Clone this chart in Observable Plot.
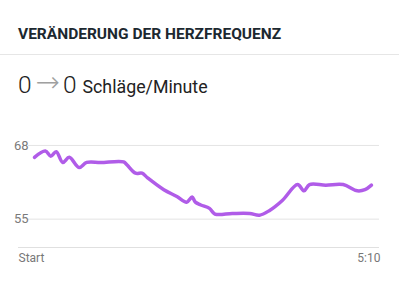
<!DOCTYPE html>
<html>
<head>
<meta charset="utf-8">
<script src="https://cdn.jsdelivr.net/npm/d3@7"></script>
<script src="https://cdn.jsdelivr.net/npm/@observablehq/plot@0.6"></script>
<style>
  html, body { margin: 0; padding: 0; background: #fff; width: 399px; overflow: hidden; }
  body { font-family: Roboto, "Noto Sans", sans-serif; }
  .title { position: absolute; left: 18px; top: 25px; font-size: 15.5px; font-weight: 700; color: #1c2830; }
  .sep { position: absolute; left: 0; top: 54px; width: 399px; height: 1px; background: #e6e6e6; }
  .value { position: absolute; left: 18px; top: 66px; color: #222; white-space: nowrap; }
  .num { font-size: 24.5px; font-weight: 300; }
  .arrow { font-family: "DejaVu Sans", sans-serif; font-size: 29px; color: #a0a0a0; font-weight: 200; margin: 0 3px 0 4px; position: relative; top: -1px; }
  .unit { font-size: 17.8px; margin-left: 6px; }
  #chart { position: absolute; left: 0; top: 125px; }
</style>
</head>
<body>
<div class="title">VERÄNDERUNG DER HERZFREQUENZ</div>
<div class="sep"></div>
<div class="value"><span class="num">0</span><span class="arrow">→</span><span class="num">0</span><span class="unit">Schläge/Minute</span></div>
<div id="chart"></div>
<script>
// seconds since start
const seconds = [0, 10, 15, 20, 26, 32, 41, 48, 61, 82, 85, 93, 99, 104, 119, 131, 140, 145, 148, 153, 161, 166, 182, 198, 207, 216, 228, 242, 248, 253, 268, 284, 297, 304, 310];
// heart rate, beats per minute
const bpm = [65.9, 67.0, 66.1, 66.9, 65.0, 65.9, 64.1, 65.0, 65.0, 65.1, 64.6, 63.1, 63.1, 62.3, 60.2, 59.0, 58.0, 58.9, 58.0, 57.5, 56.9, 55.9, 56.0, 56.0, 55.7, 56.5, 58.3, 61.1, 60.0, 61.1, 61.0, 61.1, 60.0, 60.2, 61.0];
const yTicks = [68, 55];
const xTickLabels = ["Start", "5:10"];
const xDomain = [-14.7, 317.4];
const yDomain = [50, 70];

const data = seconds.map((t, i) => ({t, v: bpm[i]}));

const chart = Plot.plot({
  width: 399,
  height: 140,
  marginLeft: 18,
  marginRight: 20,
  marginTop: 8.6,
  marginBottom: 18,
  x: {domain: xDomain, axis: null},
  y: {domain: yDomain, axis: null},
  style: {fontFamily: "Roboto, sans-serif", background: "transparent"},
  marks: [
    Plot.ruleY(yTicks, {stroke: "#e4e4e4", strokeWidth: 1, insetLeft: 10}),
    Plot.ruleY([yDomain[0]], {stroke: "#e0e0e0", strokeWidth: 1}),
    Plot.text(yTicks, {y: d => d, text: d => String(d), frameAnchor: "left", textAnchor: "start", dx: -4.5, fill: "#7a7a7a", fontSize: 13}),
    Plot.line(data, {x: "t", y: "v", curve: "catmull-rom", stroke: "#b05ce8", strokeWidth: 3.5, strokeLinecap: "round", strokeLinejoin: "round"}),
    Plot.text([xTickLabels[0]], {text: d => d, frameAnchor: "bottom-left", textAnchor: "start", dy: 14, fill: "#777", fontSize: 12}),
    Plot.text([xTickLabels[1]], {text: d => d, frameAnchor: "bottom-right", textAnchor: "end", dx: 1, dy: 14, fill: "#777", fontSize: 12})
  ]
});
document.getElementById("chart").appendChild(chart);
</script>
</body>
</html>
